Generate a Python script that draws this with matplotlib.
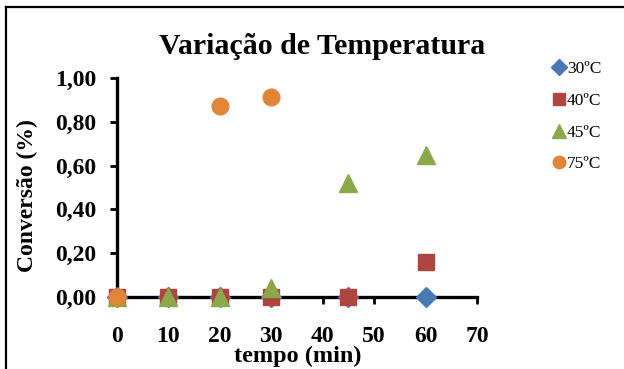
import matplotlib

matplotlib.use("Agg")
import matplotlib.pyplot as plt
from matplotlib.lines import Line2D
from matplotlib.ticker import FuncFormatter

plt.rcParams["font.family"] = ["Liberation Serif", "DejaVu Serif"]

# conversion vs. time for each reaction temperature
labels = ["30ºC", "40ºC", "45ºC", "75ºC"]
t_30 = [0, 10, 20, 30, 45, 60]
c_30 = [0.00, 0.00, 0.00, 0.00, 0.00, 0.00]
t_40 = [0, 10, 20, 30, 45, 60]
c_40 = [0.00, 0.00, 0.00, 0.00, 0.00, 0.16]
t_45 = [0, 10, 20, 30, 45, 60]
c_45 = [0.00, 0.00, 0.00, 0.04, 0.52, 0.65]
t_75 = [0, 20, 30]
c_75 = [0.00, 0.87, 0.915]

series = [
    (t_30, c_30, "D", "#4A78B5", 10.5),
    (t_40, c_40, "s", "#B0443F", 11.0),
    (t_45, c_45, "^", "#8BA84A", 12.5),
    (t_75, c_75, "o", "#E0853A", 12.0),
]

W, H = 624, 369
fig = plt.figure(figsize=(W / 100, H / 100), dpi=100)
ax = fig.add_axes([117 / W, 1 - 297 / H, 360 / W, 219 / H])

for (x, y, mk, col, ms), lab in zip(series, labels):
    ax.plot(x, y, ls="none", marker=mk, ms=ms, color=col, mec=col,
            clip_on=False, zorder=3, label=lab)

ax.set_xlim(0, 70)
ax.set_ylim(0, 1.0)
ax.set_xticks(range(0, 71, 10))
ax.set_yticks([0, 0.2, 0.4, 0.6, 0.8, 1.0])
ax.yaxis.set_major_formatter(FuncFormatter(lambda v, _: f"{v:.2f}".replace(".", ",")))

for s in ("top", "right"):
    ax.spines[s].set_visible(False)
for s in ("left", "bottom"):
    ax.spines[s].set_linewidth(2.4)
    ax.spines[s].set_zorder(2)

ax.tick_params(axis="x", direction="out", length=5, width=2, pad=16,
               labelsize=17)
ax.tick_params(axis="y", direction="out", length=5, width=2, pad=10,
               labelsize=17)
for lbl in ax.get_xticklabels() + ax.get_yticklabels():
    lbl.set_fontweight("bold")

fig.text(322 / W, 1 - 47 / H, "Variação de Temperatura", ha="center",
         va="center", fontsize=21.5, fontweight="bold")
fig.text(298 / W, 1 - 356 / H, "tempo (min)", ha="center", va="center",
         fontsize=17.5, fontweight="bold")
fig.text(27 / W, 1 - 196 / H, "Conversão (%)", ha="center", va="center",
         rotation=90, fontsize=17, fontweight="bold")

leg = ax.legend(loc="upper left", bbox_to_anchor=(553 / W, 1 - 61 / H),
                bbox_transform=fig.transFigure, frameon=False, fontsize=12.5,
                markerscale=0.75, handlelength=0.7, handletextpad=0.1,
                labelspacing=0.9, borderaxespad=0, borderpad=0)

# outer chart frame (top and left edges)
fig.add_artist(Line2D([6 / W, 6 / W], [0, 1 - 7 / H], color="black", lw=1.6,
                      transform=fig.transFigure))
fig.add_artist(Line2D([6 / W, 1], [1 - 7 / H, 1 - 7 / H], color="black",
                      lw=1.6, transform=fig.transFigure))

fig.savefig("out.png", dpi=100, facecolor="white")
